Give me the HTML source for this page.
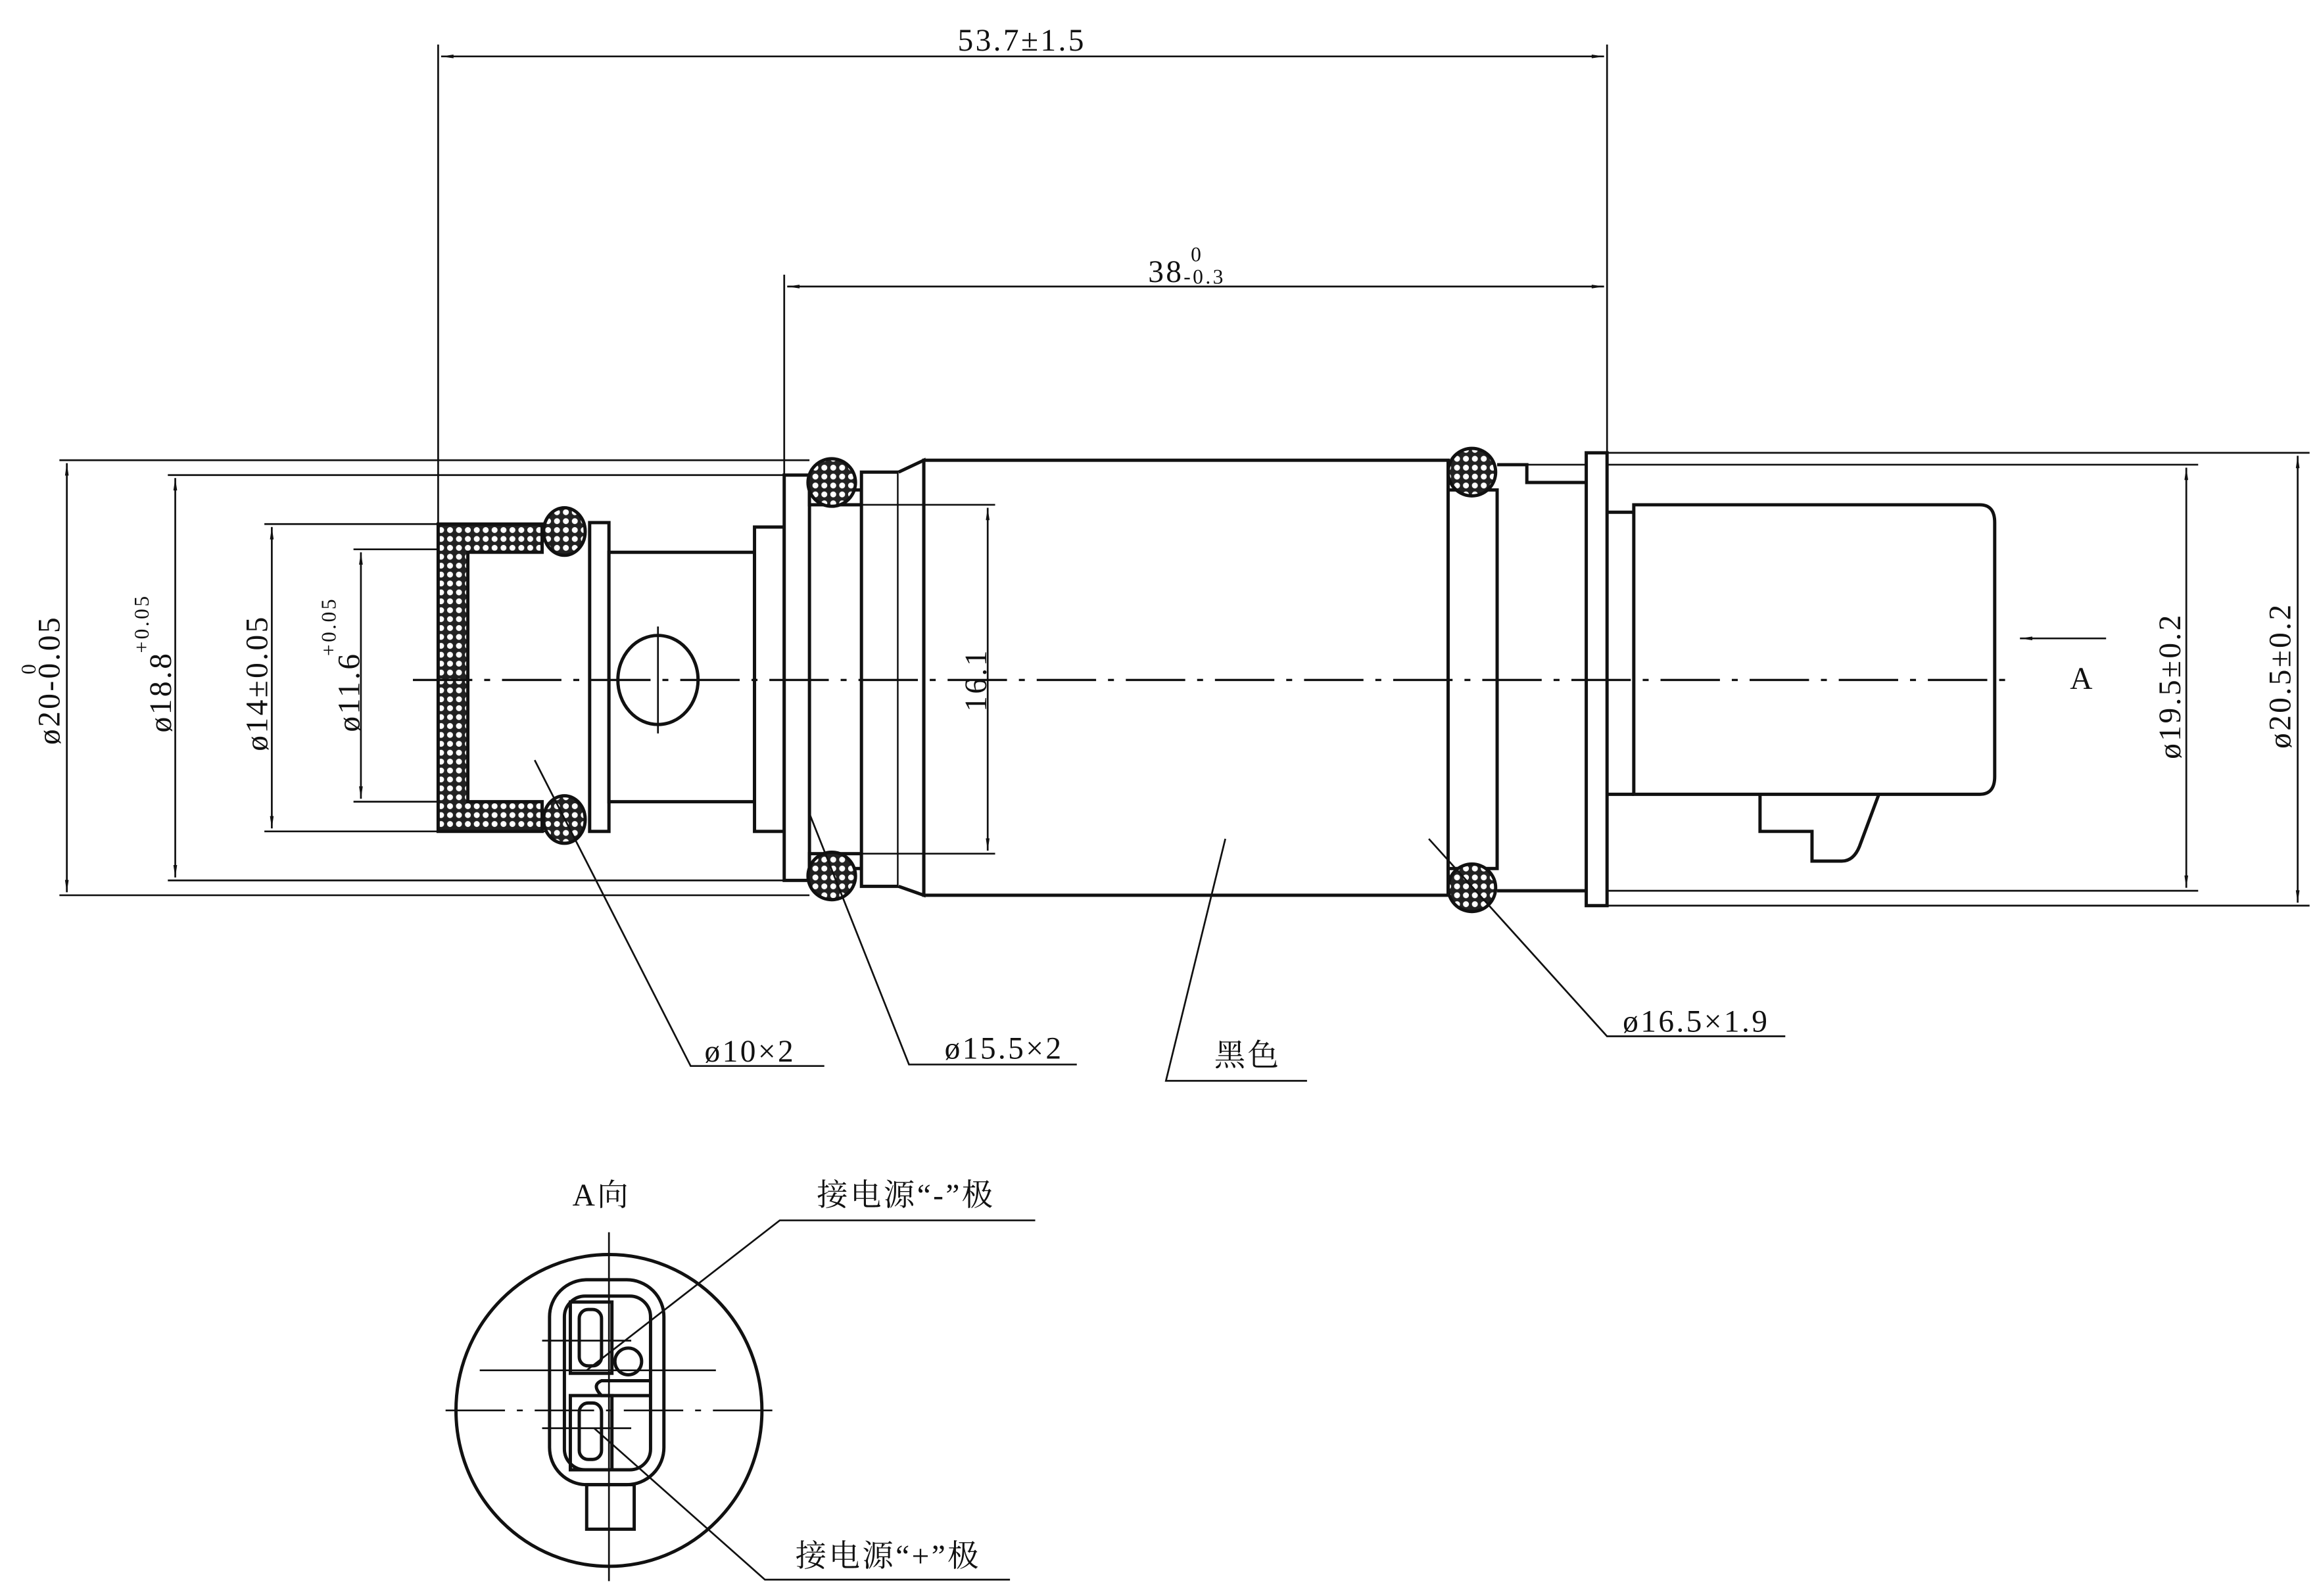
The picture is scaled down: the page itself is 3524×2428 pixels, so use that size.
<!DOCTYPE html>
<html><head><meta charset="utf-8"><style>html,body{margin:0;padding:0;background:#fff}svg{display:block}</style></head><body>
<svg width="3524" height="2428" viewBox="0 0 1560 1075" preserveAspectRatio="none" xmlns="http://www.w3.org/2000/svg" font-family="Liberation Serif, Noto Serif CJK SC, serif">
<defs>
<pattern id="h" width="6" height="6" patternUnits="userSpaceOnUse"><rect width="6" height="6" fill="#222"/><circle cx="3" cy="3" r="2" fill="#fff"/></pattern>
<marker id="a" viewBox="0 0 10 6" refX="10" refY="3" markerWidth="10" markerHeight="5" orient="auto-start-reverse" markerUnits="userSpaceOnUse"><path d="M0,1.5 L10,3 L0,4.5Z" fill="#111"/></marker>
</defs>
<g stroke="#111" fill="none" stroke-width="1.2">
<line x1="295" y1="30" x2="295" y2="460"/><line x1="1082" y1="30" x2="1082" y2="305"/><line x1="528" y1="185" x2="528" y2="320"/>
<line x1="40" y1="310" x2="545" y2="310"/><line x1="113" y1="320" x2="545" y2="320"/>
<line x1="178" y1="353" x2="380" y2="353"/><line x1="238" y1="370" x2="300" y2="370"/>
<line x1="238" y1="540" x2="300" y2="540"/><line x1="178" y1="560" x2="380" y2="560"/>
<line x1="113" y1="593" x2="545" y2="593"/><line x1="40" y1="603" x2="545" y2="603"/>
<line x1="1082" y1="305" x2="1555" y2="305"/><line x1="1028" y1="313" x2="1480" y2="313"/>
<line x1="1082" y1="600" x2="1480" y2="600"/><line x1="1082" y1="610" x2="1555" y2="610"/>
<line x1="297" y1="38" x2="1080" y2="38" marker-start="url(#a)" marker-end="url(#a)"/>
<line x1="530" y1="193" x2="1080" y2="193" marker-start="url(#a)" marker-end="url(#a)"/>
<line x1="45" y1="312" x2="45" y2="601" marker-start="url(#a)" marker-end="url(#a)"/>
<line x1="118" y1="322" x2="118" y2="591" marker-start="url(#a)" marker-end="url(#a)"/>
<line x1="183" y1="355" x2="183" y2="558" marker-start="url(#a)" marker-end="url(#a)"/>
<line x1="243" y1="372" x2="243" y2="538" marker-start="url(#a)" marker-end="url(#a)"/>
<line x1="1472" y1="315" x2="1472" y2="598" marker-start="url(#a)" marker-end="url(#a)"/>
<line x1="1547" y1="307" x2="1547" y2="608" marker-start="url(#a)" marker-end="url(#a)"/>
<line x1="1418" y1="430" x2="1360" y2="430" marker-end="url(#a)"/>
</g>
<g stroke="#111" fill="#fff" stroke-width="2.2">
<path d="M295,353 H365 V372 H315 V540 H365 V560 H295 Z" fill="url(#h)"/>
<rect x="397" y="352" width="13" height="208"/>
<rect x="410" y="372" width="98" height="168"/>
<rect x="508" y="355" width="20" height="205"/>
<rect x="528" y="320" width="17" height="273"/>
<rect x="545" y="330" width="35" height="10"/><rect x="545" y="575" width="35" height="10"/>
<rect x="580" y="318" width="25" height="279"/>
<path d="M605,318 L622,310 V603 L605,597" />
<rect x="622" y="310" width="353" height="293"/>
<rect x="975" y="330" width="33" height="255"/>
<path d="M1008,313 H1028 V325 H1068 M1008,600 H1068"/>
<rect x="1068" y="305" width="14" height="305"/>
<path d="M1082,345 H1100 M1082,535 H1100"/>
<path d="M1100,340 H1333 Q1343,340 1343,352 V523 Q1343,535 1333,535 H1100 Z"/>
<path d="M1185,535 V560 H1220 V580 H1240 Q1248,580 1252,570 L1265,535" fill="none"/>
<ellipse cx="443" cy="458" rx="27" ry="30" fill="none"/>
</g>
<g stroke="#111" fill="none" stroke-width="1.2">
<line x1="545" y1="340" x2="670" y2="340"/><line x1="545" y1="575" x2="670" y2="575"/>
<line x1="665" y1="342" x2="665" y2="573" marker-start="url(#a)" marker-end="url(#a)"/>
<line x1="278" y1="458" x2="1355" y2="458" stroke-dasharray="40,8,4,8" stroke-width="1.5"/>
<line x1="443" y1="422" x2="443" y2="494"/>
</g>
<g stroke="#111" stroke-width="2.2">
<ellipse cx="380" cy="358" rx="14" ry="16" fill="url(#h)"/>
<ellipse cx="380" cy="552" rx="14" ry="16" fill="url(#h)"/>
<ellipse cx="560" cy="325" rx="16" ry="16" fill="url(#h)"/>
<ellipse cx="560" cy="590" rx="16" ry="16" fill="url(#h)"/>
<ellipse cx="991" cy="318" rx="16" ry="16" fill="url(#h)"/>
<ellipse cx="991" cy="598" rx="16" ry="16" fill="url(#h)"/>
</g>
<g stroke="#111" fill="none" stroke-width="1.2">
<polyline points="360,512 465,718 555,718" /><polyline points="545,548 612,717 725,717"/>
<polyline points="825,565 785,728 880,728"/><polyline points="962,565 1082,698 1202,698"/>
</g>
<g fill="#111" font-size="21" text-anchor="middle" letter-spacing="1.5">
<text x="688" y="34">53.7±1.5</text>
<text x="785" y="190">38</text><text x="806" y="176" font-size="14">0</text><text x="811" y="191" font-size="14">-0.3</text>
<text x="505" y="715">ø10×2</text><text x="676" y="713">ø15.5×2</text><text x="840" y="718">黑色</text><text x="1142" y="695">ø16.5×1.9</text>
<text x="1402" y="464">A</text>
<text transform="translate(40,458) rotate(-90)">ø20-0.05</text>
<text transform="translate(24,450) rotate(-90)" font-size="14">0</text>
<text transform="translate(115,466) rotate(-90)">ø18.8</text>
<text transform="translate(100,420) rotate(-90)" font-size="14">+0.05</text>
<text transform="translate(180,460) rotate(-90)">ø14±0.05</text>
<text transform="translate(242,466) rotate(-90)">ø11.6</text>
<text transform="translate(226,422) rotate(-90)" font-size="14">+0.05</text>
<text transform="translate(664,458) rotate(-90)">16.1</text>
<text transform="translate(1468,462) rotate(-90)">ø19.5±0.2</text>
<text transform="translate(1542,455) rotate(-90)">ø20.5±0.2</text>
<text x="405" y="812">A向</text>
<text x="610" y="812">接电源“-”极</text>
<text x="598" y="1055">接电源“+”极</text>
</g>
<g stroke="#111" fill="none" stroke-width="2.2">
<ellipse cx="410" cy="950" rx="103" ry="105"/>
<rect x="370" y="862" width="77" height="138" rx="25"/>
<rect x="380" y="873" width="58" height="117" rx="14" />
<rect x="384" y="877" width="28" height="48"/><rect x="390" y="882" width="15" height="38" rx="6"/>
<rect x="384" y="940" width="28" height="50"/><rect x="390" y="945" width="15" height="38" rx="6"/>
<circle cx="423" cy="917" r="9"/>
<path d="M438,930 H405 Q398,933 405,940 H438"/>
<rect x="395" y="1000" width="32" height="30"/>
</g>
<g stroke="#111" fill="none" stroke-width="1.2">
<line x1="410" y1="830" x2="410" y2="1065"/>
<line x1="300" y1="950" x2="520" y2="950" stroke-dasharray="40,8,4,8"/>
<line x1="323" y1="923" x2="482" y2="923"/>
<line x1="365" y1="903" x2="425" y2="903"/><line x1="365" y1="962" x2="425" y2="962"/>
<polyline points="395,923 525,822 697,822"/>
<polyline points="400,962 515,1064 680,1064"/>
</g>
</svg>
</body></html>
